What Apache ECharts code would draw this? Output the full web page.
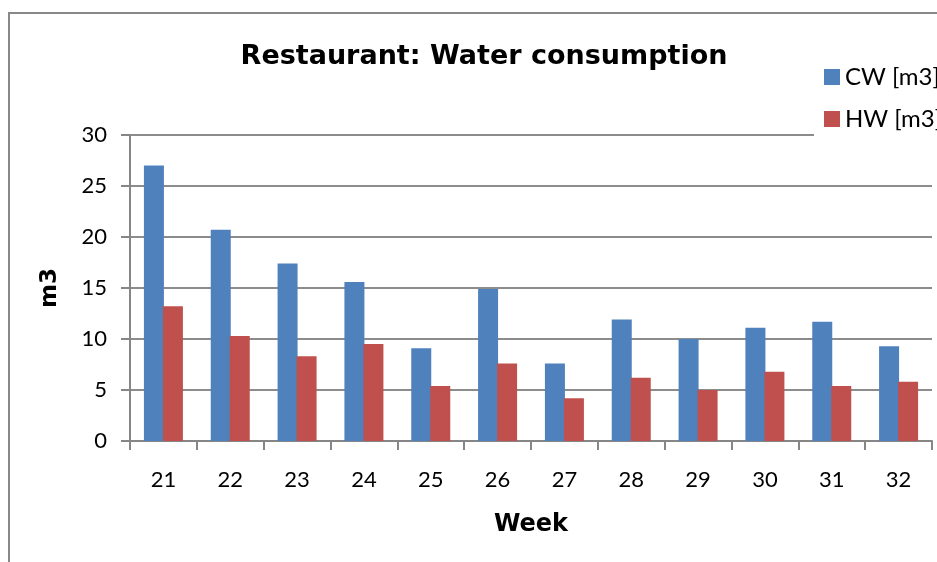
<!DOCTYPE html>
<html>
<head>
<meta charset="utf-8">
<script src="https://cdn.jsdelivr.net/npm/echarts@6/dist/echarts.min.js"></script>
<style>html,body{margin:0;padding:0;background:#fff}#c{width:937px;height:562px}</style>
</head>
<body>
<div id="c"></div>
<script>
const weeks = ['21','22','23','24','25','26','27','28','29','30','31','32'];
const cwValues = [27.0, 20.7, 17.4, 15.6, 9.1, 14.9, 7.6, 11.9, 10.0, 11.1, 11.7, 9.3];
const hwValues = [13.2, 10.3, 8.3, 9.5, 5.4, 7.6, 4.2, 6.2, 5.0, 6.8, 5.4, 5.8];
const seriesNames = ['CW [m3]', 'HW [m3]'];

const chart = echarts.init(document.getElementById('c'), null, {renderer: 'canvas'});
const tickFont = 'Lato, "Open Sans", sans-serif';
const boldFont = '"DejaVu Sans", "Liberation Sans", Arial, sans-serif';
chart.setOption({
  animation: false,
  backgroundColor: '#fff',
  title: {
    text: 'Restaurant: Water consumption',
    left: 479, top: 38, textAlign: 'center',
    textStyle: {fontFamily: boldFont, fontWeight: 'bold', fontSize: 27, color: '#000'}
  },
  legend: {
    orient: 'vertical',
    left: 814, top: 55,
    padding: [10, 10, 8, 10],
    backgroundColor: '#fff',
    itemWidth: 16, itemHeight: 16, itemGap: 18,
    icon: 'rect',
    data: seriesNames,
    textStyle: {fontFamily: tickFont, fontSize: 24, color: '#000'},
    z: 10
  },
  grid: {left: 130, right: 5, top: 135, bottom: 121, containLabel: false},
  xAxis: {
    type: 'category',
    data: weeks,
    name: 'Week',
    nameLocation: 'middle',
    nameGap: 72,
    nameTextStyle: {fontFamily: boldFont, fontWeight: 'bold', fontSize: 24, color: '#000'},
    axisLine: {lineStyle: {color: '#868686', width: 2}},
    axisTick: {show: true, length: 9, alignWithLabel: false, lineStyle: {color: '#868686', width: 2}},
    axisLabel: {fontFamily: tickFont, fontSize: 22, color: '#000', margin: 28}
  },
  yAxis: {
    type: 'value',
    min: 0, max: 30, interval: 5,
    name: 'm3',
    nameLocation: 'middle',
    nameGap: 68,
    nameRotate: 90,
    nameTextStyle: {fontFamily: boldFont, fontWeight: 'bold', fontSize: 23, color: '#000'},
    axisLine: {show: true, lineStyle: {color: '#868686', width: 2}},
    axisTick: {show: true, length: 9, inside: false, lineStyle: {color: '#868686', width: 2}},
    axisLabel: {fontFamily: tickFont, fontSize: 22, color: '#000', margin: 23},
    splitLine: {lineStyle: {color: '#8c8c8c', width: 2}}
  },
  series: [
    {name: seriesNames[0], type: 'bar', data: cwValues, barWidth: 20, barGap: '-5%', itemStyle: {color: '#4F81BD'}},
    {name: seriesNames[1], type: 'bar', data: hwValues, barWidth: 20, itemStyle: {color: '#C0504D'}}
  ],
  graphic: [{
    type: 'rect', z: 100, silent: true,
    shape: {x: 9, y: 13, width: 1000, height: 1000},
    style: {fill: 'none', stroke: '#888', lineWidth: 2}
  }]
});
</script>
</body>
</html>
